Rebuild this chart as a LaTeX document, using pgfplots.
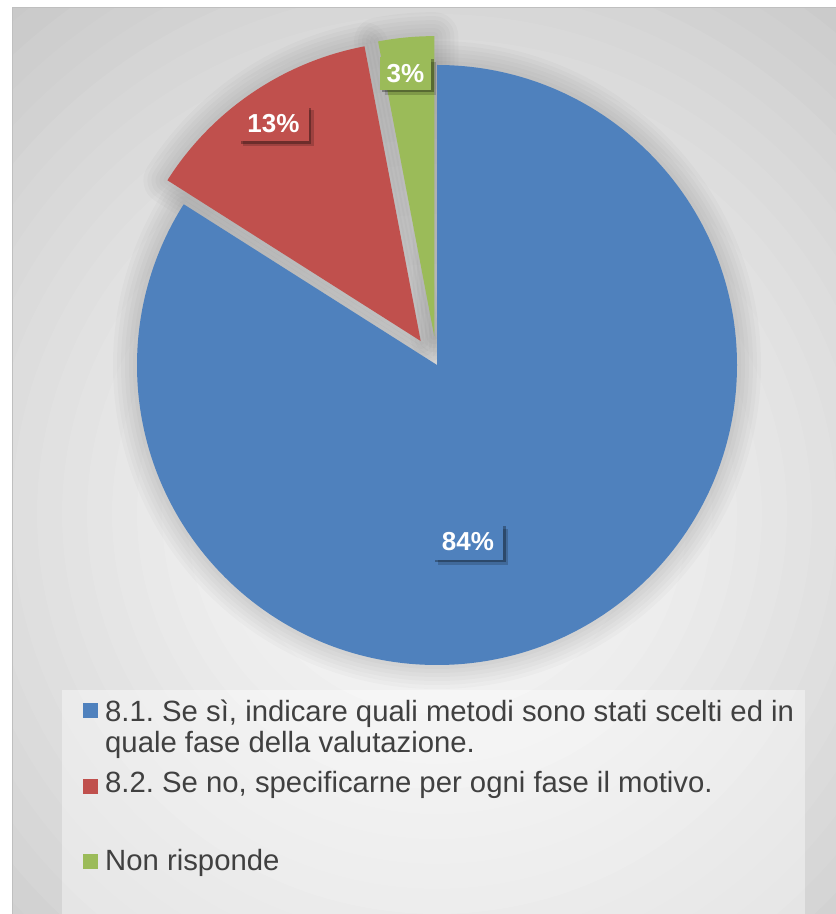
\documentclass[border=0pt]{standalone}
\usepackage{pgfplots}
\pgfplotsset{compat=1.18}
\usepackage{pgfplotstable}
\usepackage{fontspec}
\setmainfont{Liberation Sans}
\usetikzlibrary{shadows}

\definecolor{sblue}{HTML}{4F81BD}
\definecolor{sred}{HTML}{C0504D}
\definecolor{sgreen}{HTML}{9BBB59}
\definecolor{txt}{HTML}{404040}

% share of answers (%) and how far each slice is pulled out
\pgfplotstableread{
value explode
84 0
13 29
3 29
}\piedata

\tikzset{
  slice/.style n args={4}{insert path={
    ([shift={(#3:#4pt)}]axis cs:437,549) -- ++(#1:300pt)
    arc[start angle=#1, end angle=#2, radius=300pt] -- cycle}},
  lbl/.style={fill=#1, text=white, font=\fontsize{26}{26}\selectfont\bfseries,
    inner xsep=9pt, minimum height=36pt,
    drop shadow={shadow xshift=5pt, shadow yshift=-5pt, opacity=0.18, fill=black},
    drop shadow={shadow xshift=2.5pt, shadow yshift=-2.5pt, opacity=0.3, fill=black}},
}

\begin{document}
\frenchspacing
\begin{tikzpicture}
\pgfplotstablegetelem{0}{value}\of\piedata \let\va\pgfplotsretval
\pgfplotstablegetelem{1}{value}\of\piedata \let\vb\pgfplotsretval
\pgfplotstablegetelem{2}{value}\of\piedata \let\vc\pgfplotsretval
\pgfplotstablegetelem{0}{explode}\of\piedata \let\ea\pgfplotsretval
\pgfplotstablegetelem{1}{explode}\of\piedata \let\eb\pgfplotsretval
\pgfplotstablegetelem{2}{explode}\of\piedata \let\ec\pgfplotsretval
\pgfmathsetmacro\aA{90}
\pgfmathsetmacro\aB{90-3.6*\va}
\pgfmathsetmacro\aC{90-3.6*(\va+\vb)}
\pgfmathsetmacro\aD{90-3.6*(\va+\vb+\vc)}
\pgfmathsetmacro\mA{(\aA+\aB)/2}
\pgfmathsetmacro\mB{(\aB+\aC)/2}
\pgfmathsetmacro\mC{(\aC+\aD)/2}
\begin{axis}[
  x=1pt, y=1pt,
  xmin=0, xmax=836, ymin=0, ymax=914,
  hide axis,
  ]
  % background: stepped radial gradient
  \fill[black!22] (axis cs:0,0) rectangle (axis cs:836,914);
  \pgfplotsinvokeforeach{0,...,27}{
    \pgfmathsetmacro\rr{700-25*#1}
    \pgfmathsetmacro\pp{2+20*(\rr/700)^1.3}
    \edef\temp{\noexpand\fill[black!\pp] (axis cs:437,400) circle[radius=\rr pt];}
    \temp
  }
  \fill[white] (axis cs:0,0) rectangle (axis cs:12,914);
  \fill[white] (axis cs:0,906) rectangle (axis cs:836,914);
  \draw[gray!50, line width=1pt] (axis cs:12,0) -- (axis cs:12,906) -- (axis cs:836,906);
  % legend panel
  \fill[white, opacity=0.4] (axis cs:62,0) rectangle (axis cs:805,224);

  % soft shadow round the slices
  \pgfplotsinvokeforeach{48,40,32,24,16,8}{
    \draw[black, draw opacity=0.02, line width=#1pt, line join=round, slice={\aA}{\aB}{\mA}{\ea}];
    \draw[black, draw opacity=0.02, line width=#1pt, line join=round, slice={\aB}{\aC}{\mB}{\eb}];
    \draw[black, draw opacity=0.02, line width=#1pt, line join=round, slice={\aC}{\aD}{\mC}{\ec}];
  }
  \fill[sblue, slice={\aA}{\aB}{\mA}{\ea}];
  \fill[sred, slice={\aB}{\aC}{\mB}{\eb}];
  \fill[sgreen, slice={\aC}{\aD}{\mC}{\ec}];

  % data labels
  \node[lbl=sblue] at (axis cs:468,372) {84\%};
  \node[lbl=sred] at (axis cs:273.5,790.5) {13\%};
  \node[lbl=sgreen, inner xsep=7pt, minimum height=33pt] at (axis cs:405.5,840.5) {3\%};

  % legend
  \fill[sblue] (axis cs:83,196) rectangle (axis cs:98,211);
  \fill[sred] (axis cs:83,120) rectangle (axis cs:98,135);
  \fill[sgreen] (axis cs:83,45) rectangle (axis cs:98,60);
  \begin{scope}[every node/.style={anchor=base west, inner sep=0pt, text=txt,
      font=\fontsize{29.3}{31}\selectfont}]
    \node at (axis cs:105,192) {8.1. Se sì, indicare quali metodi sono stati scelti ed in};
    \node at (axis cs:105,161) {quale fase della valutazione.};
    \node at (axis cs:105,121) {8.2. Se no, specificarne per ogni fase il motivo.};
    \node at (axis cs:105,43) {Non risponde};
  \end{scope}
\end{axis}
\end{tikzpicture}
\end{document}
